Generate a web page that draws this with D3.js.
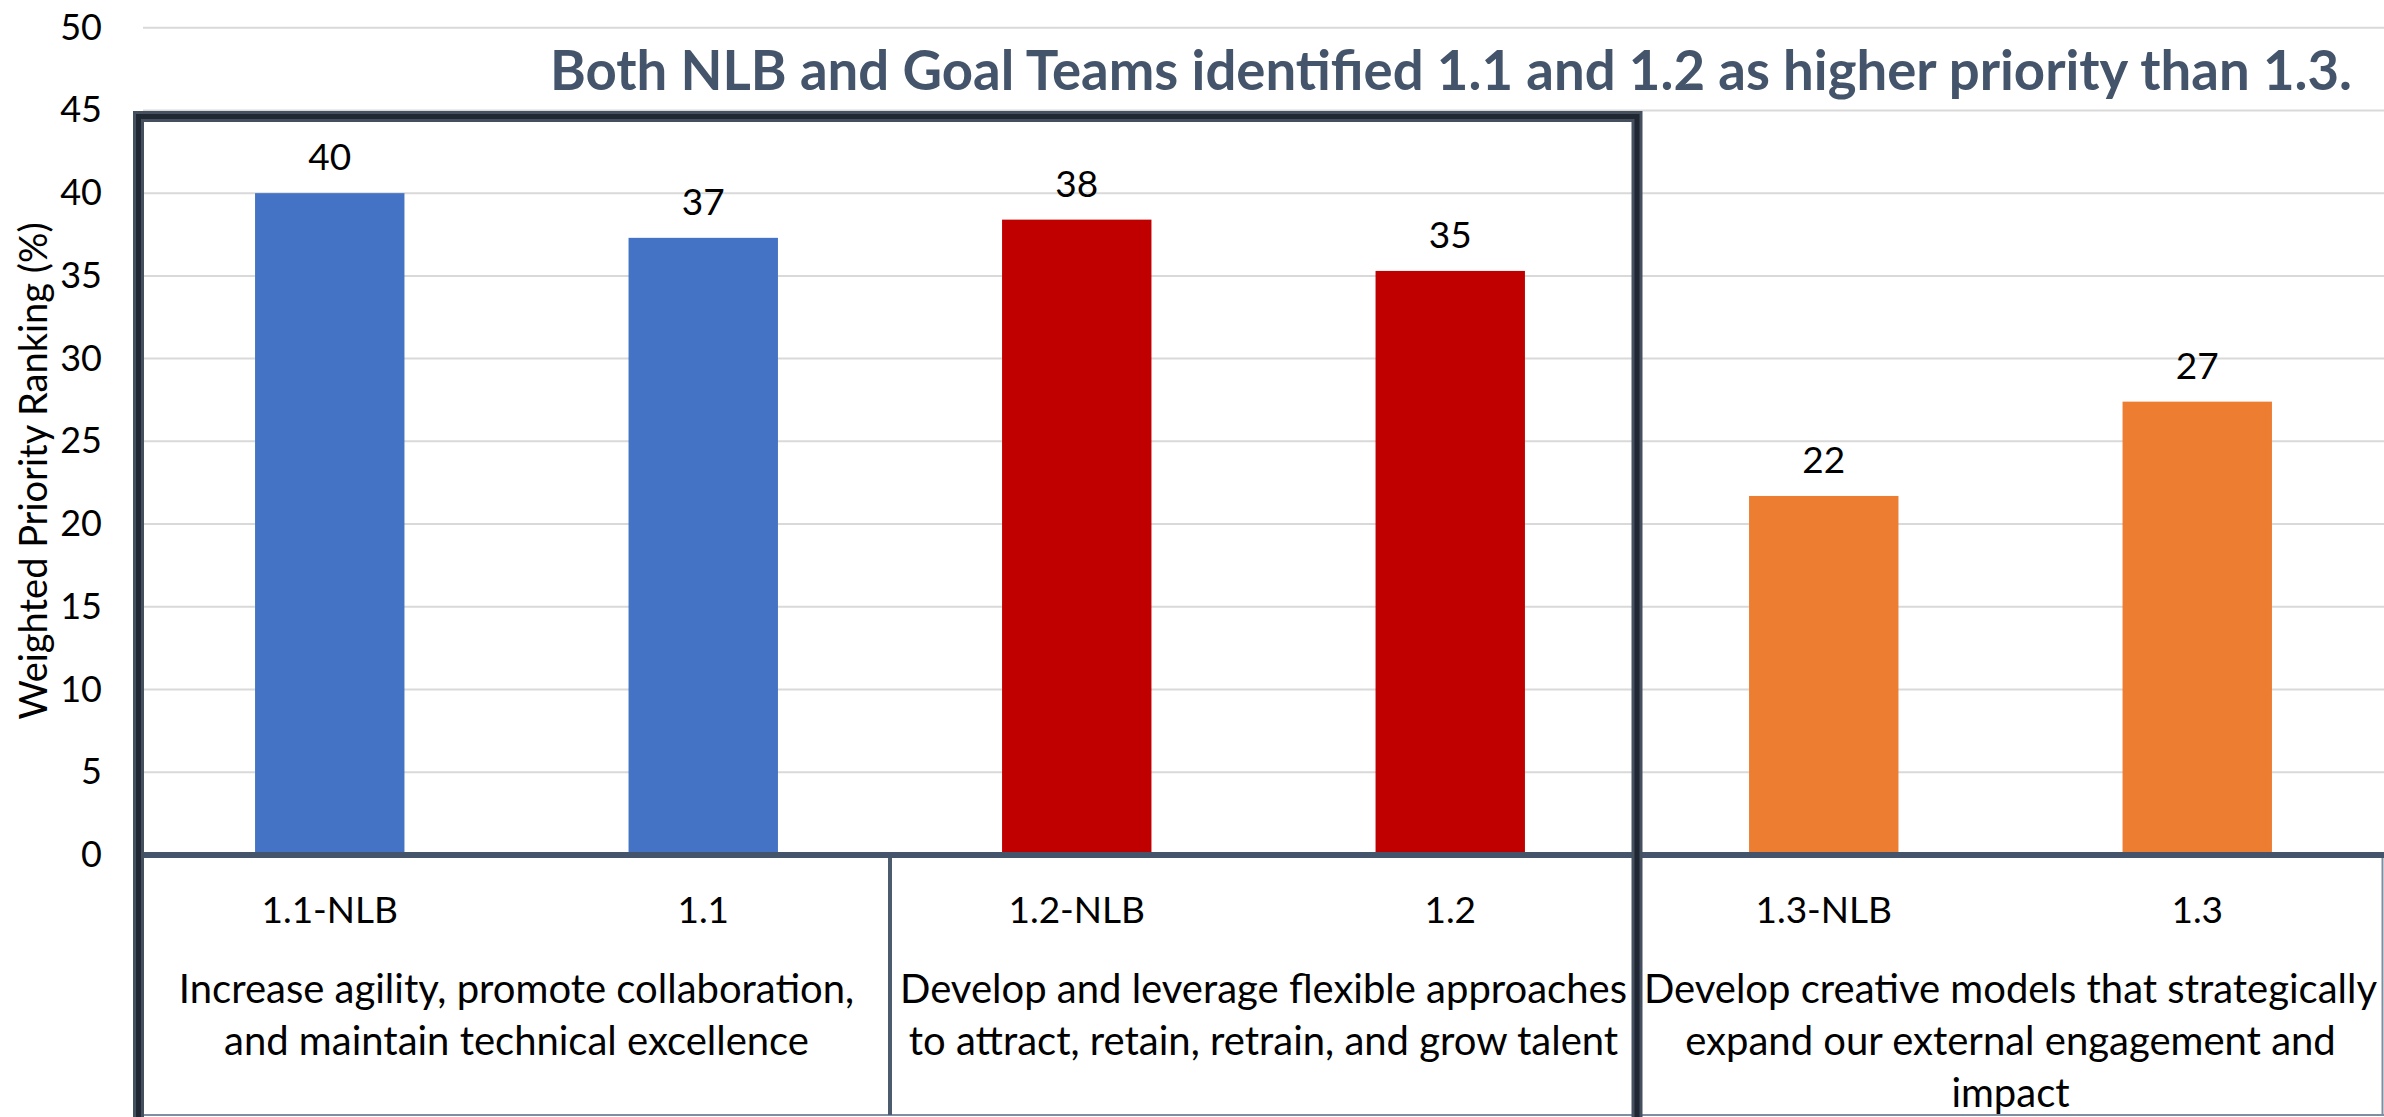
<!DOCTYPE html>
<html>
<head>
<meta charset="utf-8">
<script src="https://d3js.org/d3.v7.min.js"></script>
<style>
    body { margin: 0; background: #ffffff; }
    svg { display: block; }
    text { font-family: Lato, "Open Sans", sans-serif; }
</style>
</head>
<body>
<script>

const categories = ["1.1-NLB", "1.1", "1.2-NLB", "1.2", "1.3-NLB", "1.3"]
const values = [40.0, 37.3, 38.4, 35.3, 21.7, 27.4]
const barColors = ["#4472C4", "#4472C4", "#C00000", "#C00000", "#ED7D31", "#ED7D31"]

const groupLabels = [
    ["Increase agility, promote collaboration,", "and maintain technical excellence"],
    ["Develop and leverage flexible approaches", "to attract, retain, retrain, and grow talent"],
    ["Develop creative models that strategically", "expand our external engagement and", "impact"]
]
const yTicks = [0, 5, 10, 15, 20, 25, 30, 35, 40, 45, 50]

const titleText = "Both NLB and Goal Teams identified 1.1 and 1.2 as higher priority than 1.3."
const yLabel = "Weighted Priority Ranking (%)"

const width = 2384
const height = 1117
const margin = {top: 27.7, right: 0, bottom: 262, left: 143}

const svg = d3.select("body")
    .append("svg")
    .attr("width", width)
    .attr("height", height)

const x = d3.scaleBand()
    .domain(categories)
    .range([margin.left, width - margin.right])
    .paddingInner(0.6)
    .paddingOuter(0.3)

const y = d3.scaleLinear()
    .domain([0, 50])
    .range([height - margin.bottom, margin.top])

// cell edges of the category table (one per bar)
const step = x.step()
const x0 = x.range()[0]
const cellEdge = i => x0 + i * step

// gridlines
svg.append("g")
    .selectAll("line")
    .data(yTicks.filter(d => d > 0))
    .enter().append("line")
    .attr("x1", x0)
    .attr("x2", width)
    .attr("y1", d => y(d))
    .attr("y2", d => y(d))
    .attr("stroke", "#d9d9d9")
    .attr("stroke-width", 2)

// y axis labels
const yAxis = svg.append("g")
    .attr("transform", `translate(${x0 - 41},0)`)
    .call(d3.axisLeft(y).tickValues(yTicks).tickSize(0).tickPadding(0))
yAxis.select(".domain").remove()
yAxis.selectAll("text")
    .style("font-family", "Lato, 'Open Sans', sans-serif")
    .style("font-size", "36px")
    .attr("fill", "#000000")

svg.append("text")
    .attr("transform", `translate(47,471) rotate(-90)`)
    .attr("text-anchor", "middle")
    .style("font-size", "38px")
    .attr("fill", "#000000")
    .text(yLabel)

// bars
svg.append("g")
    .selectAll("rect")
    .data(values)
    .enter().append("rect")
    .attr("x", (d, i) => x(categories[i]))
    .attr("width", x.bandwidth())
    .attr("y", d => y(d))
    .attr("height", d => y(0) - y(d))
    .attr("fill", (d, i) => barColors[i])

svg.append("g")
    .selectAll("text")
    .data(values)
    .enter().append("text")
    .attr("x", (d, i) => x(categories[i]) + x.bandwidth() / 2)
    .attr("y", d => y(d) - 23)
    .attr("text-anchor", "middle")
    .style("font-size", "37px")
    .attr("fill", "#000000")
    .text(d => d3.format(".0f")(d))

// category table under the axis
const tableTop = y(0)
const tableBottom = 1115

svg.append("line")
    .attr("x1", x0).attr("x2", width)
    .attr("y1", tableBottom).attr("y2", tableBottom)
    .attr("stroke", "#7f8da0")
    .attr("stroke-width", 2)

svg.append("g")
    .selectAll("line")
    .data([2, 6])
    .enter().append("line")
    .attr("x1", d => Math.min(cellEdge(d), width - 1.5))
    .attr("x2", d => Math.min(cellEdge(d), width - 1.5))
    .attr("y1", tableTop)
    .attr("y2", tableBottom)
    .attr("stroke", d => d === 2 ? "#4d5b6e" : "#7f8da0")
    .attr("stroke-width", d => d === 2 ? 4 : 2)

svg.append("line")
    .attr("x1", x0).attr("x2", width)
    .attr("y1", tableTop).attr("y2", tableTop)
    .attr("stroke", "#44546A")
    .attr("stroke-width", 6)

svg.append("g")
    .selectAll("text")
    .data(categories)
    .enter().append("text")
    .attr("x", d => x(d) + x.bandwidth() / 2)
    .attr("y", 923)
    .attr("text-anchor", "middle")
    .style("font-size", "37px")
    .attr("fill", "#000000")
    .text(d => d)

const groups = svg.append("g")
    .selectAll("text")
    .data(groupLabels)
    .enter().append("text")
    .attr("text-anchor", "middle")
    .style("font-size", "40px")
    .attr("fill", "#000000")

groups.selectAll("tspan")
    .data((d, i) => d.map(line => ({line: line, g: i})))
    .enter().append("tspan")
    .attr("x", d => (cellEdge(d.g * 2) + cellEdge(d.g * 2 + 2)) / 2)
    .attr("y", (d, j) => 1003 + j * 52)
    .text(d => d.line)

// dark frame round the first two goals
const frameLeft = x0 - 4.5
const frameRight = cellEdge(4)
const frameTop = y(45) + 6
svg.append("path")
    .attr("d", `M${frameLeft},${height + 20} V${frameTop} H${frameRight} V${height + 20}`)
    .attr("fill", "none")
    .attr("stroke", "#45505f")
    .attr("stroke-width", 11)
svg.append("path")
    .attr("d", `M${frameLeft},${height + 20} V${frameTop} H${frameRight} V${height + 20}`)
    .attr("fill", "none")
    .attr("stroke", "#1f2733")
    .attr("stroke-width", 5)

svg.append("text")
    .attr("x", 2352)
    .attr("y", 90)
    .attr("text-anchor", "end")
    .style("font-size", "54.5px")
    .style("font-weight", "bold")
    .attr("fill", "#44546A")
    .text(titleText)

</script>
</body>
</html>
